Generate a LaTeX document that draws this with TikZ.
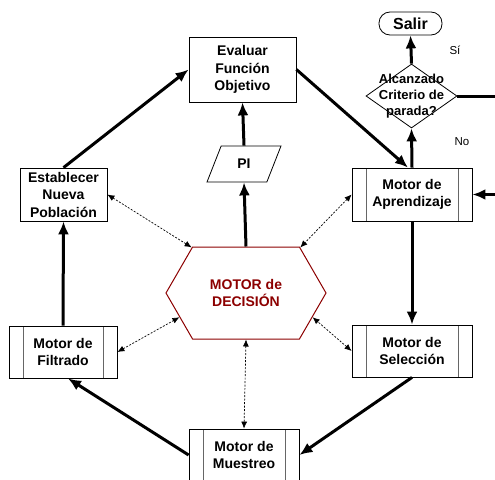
\documentclass[tikz,border=0pt]{standalone}
\usepackage{fontspec}
\setmainfont{Liberation Sans}
\usetikzlibrary{arrows.meta,shapes.geometric,shapes.symbols,positioning}
\colorlet{decired}{red!55!black}
\newcommand{\lblfont}{\fontsize{14}{17.5}\selectfont\bfseries}
\tikzset{
    boxsty/.style={draw,rectangle,line width=0.8pt,fill=white,align=center,inner sep=0pt,font=\lblfont},
    motorsty/.style={boxsty,path picture={
        \draw[black!60,line width=0.8pt] ([xshift=14pt]path picture bounding box.north west) -- ([xshift=14pt]path picture bounding box.south west);
        \draw[black!60,line width=0.8pt] ([xshift=-14pt]path picture bounding box.north east) -- ([xshift=-14pt]path picture bounding box.south east);}},
    termsty/.style={boxsty,rounded corners=11pt,font=\fontsize{16}{18}\selectfont\bfseries},
    decisty/.style={draw,diamond,line width=0.8pt,inner sep=0pt,minimum width=91pt,minimum height=64pt},
    datasty/.style={draw,trapezium,trapezium left angle=67,trapezium right angle=113,trapezium stretches=true,
        line width=0.8pt,inner sep=0pt,minimum width=74pt,minimum height=36pt,font=\lblfont},
    hexsty/.style={draw=decired,signal,signal to=west and east,signal pointer angle=120,line width=1pt,
        minimum width=160pt,minimum height=92pt,inner sep=0pt,align=center,text=decired,font=\lblfont},
    flowsty/.style={line width=3pt,-{Latex[length=13pt,width=11pt]}},
    linksty/.style={line width=0.7pt,dash pattern=on 2pt off 1.5pt,{Latex[length=7pt,width=6pt]}-{Latex[length=7pt,width=6pt]}},
    smallsty/.style={font=\fontsize{11.5}{13}\selectfont},
}

\begin{document}
\begin{tikzpicture}[x=1pt,y=-1pt]
  \useasboundingbox (0,0) rectangle (495,479);

  \node[boxsty,minimum width=107pt,minimum height=65pt] (eval) at (242.5,69.5) {Evaluar\\Función\\Objetivo};
  \node[datasty] (pi) at (244,164) {PI};
  \node[hexsty] (dec) at (246,293) {MOTOR de\\DECISIÓN};
  \node[boxsty,minimum width=87pt,minimum height=53pt] (pob) at (63.5,194.5) {Establecer\\Nueva\\Población};
  \node[motorsty,minimum width=108pt,minimum height=52pt] (filt) at (63,352) {Motor de\\Filtrado};
  \node[motorsty,minimum width=110pt,minimum height=52pt] (mues) at (244,455) {Motor de\\Muestreo};
  \node[motorsty,minimum width=120pt,minimum height=52pt] (sel) at (412,351) {Motor de\\Selección};
  \node[motorsty,minimum width=120pt,minimum height=53pt] (apr) at (412,194.5) {Motor de\\Aprendizaje};
  \node[decisty] (crit) at (411.5,96) {};
  \node[align=center,font=\fontsize{13}{16}\selectfont\bfseries] (critlbl) at (crit) {Alcanzado\\Criterio de\\parada?};
  \node[termsty,minimum width=63pt,minimum height=23pt] (salir) at (410.5,23.5) {Salir};
  \node[smallsty] (si) at (455,50) {Sí};
  \node[smallsty] (no) at (462,142) {No};
  \coordinate (critout) at (495,96);
  \coordinate (aprin) at (495,194.5);

  % ciclo principal
  \draw[flowsty] (pob.north) -- (eval.west);
  \draw[flowsty] (eval.east) -- ([xshift=-4pt]apr.north);
  \draw[flowsty] (apr.north) -- (crit.south);
  \draw[flowsty] (crit.north) -- (salir.south);
  \draw[line width=3pt] (crit.east) -- (critout);
  \draw[flowsty] (aprin) -- (apr.east);
  \draw[flowsty] (apr.south) -- (sel.north);
  \draw[flowsty] (sel.south) -- (mues.east);
  \draw[flowsty] (mues.west) -- ([xshift=5pt]filt.south);
  \draw[flowsty] (filt.north) -- (pob.south);
  \draw[flowsty] (dec.north) -- (pi.south);
  \draw[flowsty] (pi.north) -- (eval.south);

  % enlaces con el motor de decision
  \draw[linksty] (pob.east) -- (dec.140);
  \draw[linksty] (apr.west) -- (dec.40);
  \draw[linksty] (filt.east) -- (dec.200);
  \draw[linksty] (sel.west) -- (dec.340);
  \draw[linksty] (dec.south) -- (mues.north);
\end{tikzpicture}
\end{document}
